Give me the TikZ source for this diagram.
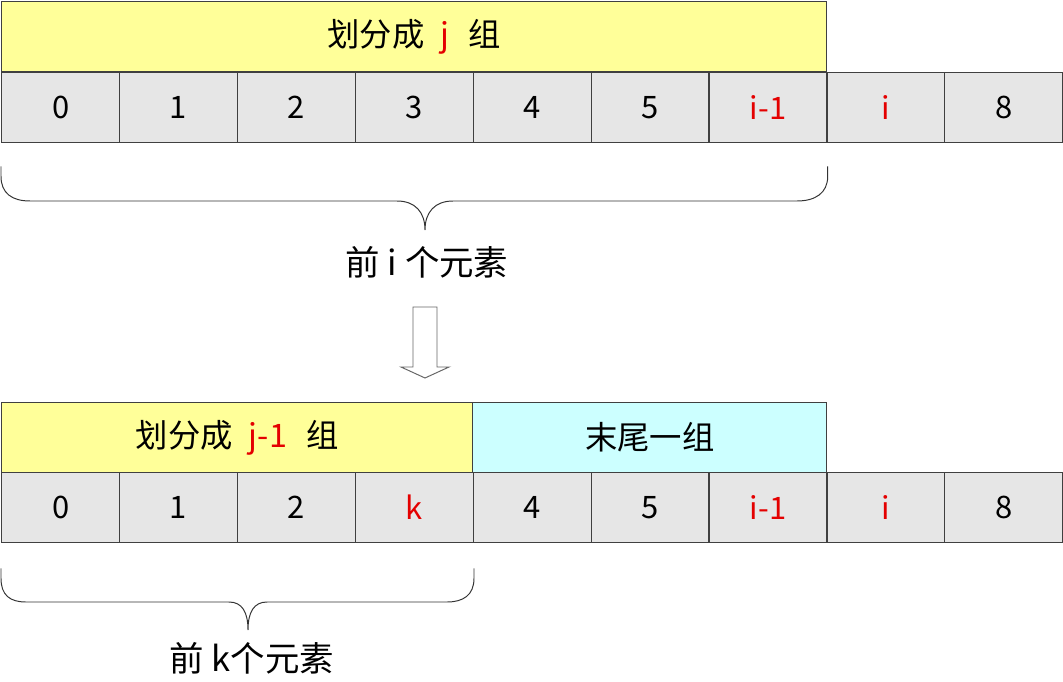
\documentclass[tikz,border=0pt]{standalone}
\usepackage{fontspec}
\setmainfont{Noto Sans CJK SC}
\usepackage{xcolor}
\definecolor{grpyellow}{RGB}{255,255,153}
\definecolor{grpcyan}{RGB}{204,255,255}
\definecolor{cellgray}{RGB}{230,230,230}
\definecolor{idxred}{RGB}{228,0,0}
\usetikzlibrary{positioning,calc}
\tikzset{
  cell/.style={rectangle,draw=black!75,fill=cellgray,line width=0.9pt,
    minimum width=2.95cm,minimum height=1.75cm,inner sep=0pt,
    anchor=north west,font=\fontsize{22}{26}\selectfont},
  grpbox/.style={rectangle,draw=black!75,line width=0.9pt,
    minimum height=1.75cm,inner sep=0pt,
    anchor=north west,font=\fontsize{23}{27}\selectfont},
  brc/.style={draw=black!80,line width=0.7pt},
  lbl/.style={font=\fontsize{24.5}{28}\selectfont,inner sep=0pt},
  hollow/.style={draw=black!60,fill=white,line width=0.7pt},
}
\newcommand{\hl}[1]{\hspace{0.5em}{\color{idxred}#1}\hspace{0.6em}}

\begin{document}
\begin{tikzpicture}[x=0.025cm,y=-0.025cm]
  \useasboundingbox (0,0) rectangle (1063,682);

  % --- Upper array: j groups over the first i elements ---
  \node (topgrp) [grpbox,fill=grpyellow,minimum width=20.625cm] at (1,1)
    {划分成\hl{j}组};
  \foreach \txt/\clr [count=\n from 0] in
      {0/black,1/black,2/black,3/black,4/black,5/black,i-1/idxred,i/idxred,8/black}
    \node (t\n) [cell,text=\clr] at ({1+117.9*\n},72) {\txt};

  % brace under t0..t6
  \coordinate (ta) at ($(t0.south west)+(0,23)$);
  \coordinate (tb) at ($(t6.south east)+(0,23)$);
  \coordinate (ttip) at (425,230);
  \draw[brc] (ta) -- ++(0,10) .. controls ++(0,17) and (12,201) .. (30,201)
    -- (397,201) .. controls (415,201) and (425,212) .. (ttip)
    .. controls (425,212) and (435,201) .. (453,201)
    -- (797,201) .. controls (815,201) and ($(tb)+(0,27)$) .. ($(tb)+(0,10)$)
    -- (tb);
  \node (toplbl) [lbl] at (427,262) {前 i 个元素};

  % --- hollow down arrow ---
  \coordinate (arrtop) at (425,307);
  \draw[hollow] ($(arrtop)+(-12,0)$) -- ++(24,0) -- ++(0,60) -- ++(12,0)
    -- (425,378) -- (401,367) -- (413,367) -- cycle;

  % --- Lower array: j-1 groups + last group ---
  \node (botgrp) [grpbox,fill=grpyellow,minimum width=11.775cm] at (1,402)
    {划分成\hl{j-1}组};
  \node (lastgrp) [grpbox,fill=grpcyan,minimum width=8.85cm] at (472,402)
    {末尾一组};
  \foreach \txt/\clr [count=\n from 0] in
      {0/black,1/black,2/black,k/idxred,4/black,5/black,i-1/idxred,i/idxred,8/black}
    \node (b\n) [cell,text=\clr] at ({1+117.9*\n},472) {\txt};

  % brace under b0..b3
  \coordinate (ba) at ($(b0.south west)+(0,25)$);
  \coordinate (bb) at ($(b3.south east)+(0,25)$);
  \coordinate (btip) at (248,630);
  \draw[brc] (ba) -- ++(0,10) .. controls ++(0,17) and (10,602) .. (26,602)
    -- (229,602) .. controls (242,602) and (248,612) .. (btip)
    .. controls (248,612) and (254,602) .. (267,602)
    -- (447,602) .. controls (463,602) and ($(bb)+(0,27)$) .. ($(bb)+(0,10)$)
    -- (bb);
  \node (botlbl) [lbl] at (252,658) {前 k个元素};
\end{tikzpicture}
\end{document}
